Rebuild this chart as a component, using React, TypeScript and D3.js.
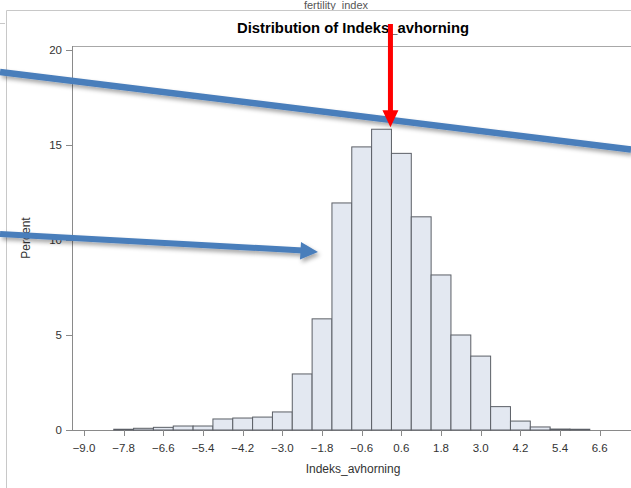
import * as d3 from 'd3';

// bin centres (bin width 0.6) and percent per bin
const binCenters = [-7.8, -7.2, -6.6, -6.0, -5.4, -4.8, -4.2, -3.6, -3.0, -2.4, -1.8, -1.2,
  -0.6, 0.0, 0.6, 1.2, 1.8, 2.4, 3.0, 3.6, 4.2, 4.8, 5.4, 6.0];
const percents = [0.04, 0.09, 0.14, 0.21, 0.21, 0.58, 0.63, 0.68, 0.95, 2.95, 5.85, 11.95,
  14.9, 15.83, 14.56, 11.22, 8.16, 5.0, 3.89, 1.23, 0.47, 0.16, 0.05, 0.04];
const binWidth = 0.6;

const xTicks = [-9.0, -7.8, -6.6, -5.4, -4.2, -3.0, -1.8, -0.6, 0.6, 1.8, 3.0, 4.2, 5.4, 6.6];
const yTicks = [0, 5, 10, 15, 20];

const W = 631, H = 488;
const left = 72, right = 634, top = 46, bottom = 430;
const font = '"Liberation Sans", Arial, sans-serif';

export default function App() {
  const x = d3.scaleLinear().domain([-9.363, 7.637]).range([left, right]);
  const y = d3.scaleLinear().domain([0, 20]).range([bottom, 50]);

  const bins = binCenters.map((c, i) => ({ c, v: percents[i] }));
  const peak = bins.reduce((a, b) => (b.v > a.v ? b : a));

  // annotation arrows (pointing at the peak of the histogram)
  const redX = x(peak.c + binWidth / 2) - 1;
  const redTip = y(peak.v) - 2;

  return (
    <div style={{ position: 'absolute', left: 0, top: 0, width: W, height: H, background: '#fff' }}>
      <svg width={W} height={H} style={{ display: 'block', fontFamily: font }}>
        <defs>
          <filter id="shadow" x="-10%" y="-50%" width="120%" height="300%">
            <feDropShadow dx="2" dy="3" stdDeviation="2" floodColor="#000" floodOpacity="0.35" />
          </filter>
        </defs>

        {/* outer frame */}
        <text x={336} y={9} textAnchor="middle" fontSize={11} fill="#555">fertility_index</text>
        <path d={`M6.5,${H}V10.5H${W}`} fill="none" stroke="#c8c8c8" />
        <line x1={0} x2={5} y1={23.5} y2={23.5} stroke="#c8c8c8" />

        {/* title */}
        <text x={353} y={33} textAnchor="middle" fontSize={14} fontWeight="bold" fill="#000"
          textLength={232} lengthAdjust="spacingAndGlyphs">
          Distribution of Indeks_avhorning
        </text>

        {/* plot frame */}
        <line x1={left} x2={W} y1={top + 0.5} y2={top + 0.5} stroke="#a8a8a8" />
        <line x1={left + 0.5} x2={left + 0.5} y1={top} y2={bottom} stroke="#8a8a8a" />
        <line x1={left} x2={W} y1={bottom + 0.5} y2={bottom + 0.5} stroke="#8a8a8a" />

        {/* bars */}
        {bins.map(b => (
          <rect
            key={b.c}
            x={x(b.c - binWidth / 2)}
            y={y(b.v)}
            width={x(b.c + binWidth / 2) - x(b.c - binWidth / 2)}
            height={bottom - y(b.v)}
            fill="#e3e8f1"
            stroke="#5b5f66"
            strokeWidth={1}
          />
        ))}

        {/* y axis */}
        {yTicks.map(t => (
          <g key={t}>
            <line x1={left - 6} x2={left} y1={Math.round(y(t)) + 0.5} y2={Math.round(y(t)) + 0.5} stroke="#8a8a8a" />
            <text x={left - 10} y={y(t) + 4} textAnchor="end" fontSize={11.5} fill="#333">{t}</text>
          </g>
        ))}
        <text transform={`translate(30,238) rotate(-90)`} textAnchor="middle" fontSize={12} fill="#333">Percent</text>

        {/* x axis */}
        {xTicks.map(t => (
          <g key={t}>
            <line x1={Math.round(x(t)) + 0.5} x2={Math.round(x(t)) + 0.5} y1={bottom} y2={bottom + 6} stroke="#8a8a8a" />
            <text x={x(t)} y={452} textAnchor="middle" fontSize={11.5} fill="#333">{d3.format('.1f')(t)}</text>
          </g>
        ))}
        <text x={353} y={473} textAnchor="middle" fontSize={12} fill="#333">Indeks_avhorning</text>

        {/* annotations */}
        <g filter="url(#shadow)">
          <line x1={0} y1={72} x2={W} y2={149.5} stroke="#4a7ebb" strokeWidth={6.5} />
          <line x1={0} y1={234} x2={303} y2={250.5} stroke="#4a7ebb" strokeWidth={6} />
          <path d="M301,242 L318,252 L300,259.5 Z" fill="#4a7ebb" />
        </g>
        <line x1={redX} x2={redX} y1={24} y2={redTip - 15} stroke="#ff0000" strokeWidth={5} />
        <path d={`M${redX - 8},${redTip - 17} L${redX + 8},${redTip - 17} L${redX},${redTip} Z`} fill="#ff0000" />
      </svg>
    </div>
  );
}
